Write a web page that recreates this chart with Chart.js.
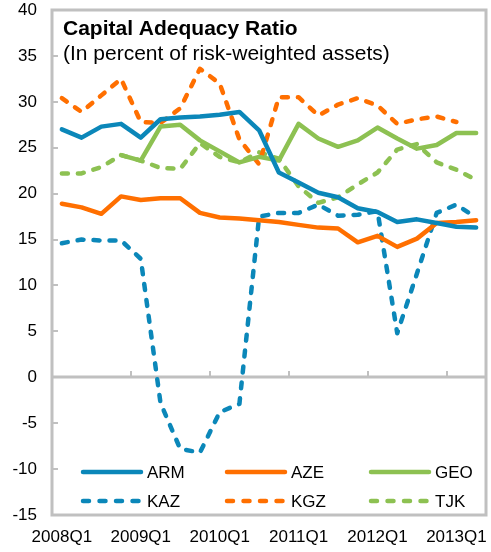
<!DOCTYPE html>
<html>
<head>
<meta charset="utf-8">
<script src="https://cdn.jsdelivr.net/npm/chart.js@4"></script>
<style>
  html, body { margin: 0; padding: 0; background: #fff; }
  #wrap { width: 491px; height: 552px; }
</style>
</head>
<body>
<div id="wrap"><canvas id="car" width="491" height="552"></canvas></div>
<script>
const quarters = [
  "2008Q1", "2008Q2", "2008Q3", "2008Q4",
  "2009Q1", "2009Q2", "2009Q3", "2009Q4",
  "2010Q1", "2010Q2", "2010Q3", "2010Q4",
  "2011Q1", "2011Q2", "2011Q3", "2011Q4",
  "2012Q1", "2012Q2", "2012Q3", "2012Q4",
  "2013Q1", "2013Q2"
];
const shownQuarters = ["2008Q1", "2009Q1", "2010Q1", "2011Q1", "2012Q1", "2013Q1"];
const yMin = -15, yMax = 40, yStep = 5;

const arm = [27.0, 26.1, 27.3, 27.6, 26.1, 28.1, 28.3, 28.4, 28.6, 28.9, 26.9, 22.3,
             21.2, 20.1, 19.6, 18.4, 18.0, 16.9, 17.2, 16.8, 16.4, 16.3];
const aze = [18.9, 18.5, 17.8, 19.7, 19.3, 19.5, 19.5, 17.9, 17.4, 17.3, 17.1, 16.9,
             16.6, 16.3, 16.2, 14.7, 15.4, 14.2, 15.1, 16.8, 16.9, 17.1];
const geo = [null, null, null, 24.2, 23.6, 27.3, 27.5, 25.8, 24.6, 23.4, 24.0, 23.6,
             27.6, 26.0, 25.1, 25.8, 27.2, 26.0, 24.9, 25.3, 26.6, 26.6];
const kaz = [14.6, 15.0, 14.9, 14.9, 12.9, -2.8, -7.8, -8.2, -3.8, -2.9, 17.5, 17.9,
             17.9, 18.8, 17.6, 17.7, 18.1, 4.8, 11.3, 17.9, 18.8, 17.4];
const kgz = [30.4, 28.9, 30.7, 32.5, 27.8, 27.7, 29.3, 33.6, 32.0, 25.9, 23.2, 30.5,
             30.5, 28.5, 29.7, 30.4, 29.6, 27.6, 28.1, 28.4, 27.8, null];
const tjk = [22.2, 22.2, 22.9, 24.2, 23.6, 22.8, 22.7, 25.5, 24.0, 23.4, 24.5, 23.8,
             20.8, 19.0, 19.6, 21.0, 22.3, 24.8, 25.4, 23.4, 22.6, 21.5];

const BLUE = "#0b87b9", ORANGE = "#ff6f00", GREEN = "#8dc152";
const FONT = "'Liberation Sans', Arial, sans-serif";
const DASH = [6, 10];

function series(label, data, color, dashed) {
  return {
    label, data,
    borderColor: color,
    backgroundColor: color,
    borderWidth: 4.5,
    borderDash: dashed ? DASH : [],
    borderCapStyle: "round",
    borderJoinStyle: "round",
    pointRadius: 0,
    tension: 0,
    fill: false,
    dashed
  };
}

// frame, zero line and the small inward ticks
const framePlugin = {
  id: "frame",
  beforeDatasetsDraw(chart) {
    const { ctx, chartArea: a, scales } = chart;
    const y = scales.y;
    ctx.save();
    ctx.strokeStyle = "#c0c0c0";
    ctx.lineWidth = 3;
    ctx.strokeRect(a.left, a.top, a.right - a.left, a.bottom - a.top);

    ctx.lineWidth = 2;
    for (let v = yMin; v <= yMax; v += yStep) {
      const py = Math.round(y.getPixelForValue(v));
      ctx.beginPath();
      ctx.moveTo(a.left, py);
      ctx.lineTo(a.left + 6, py);
      ctx.stroke();
    }

    const zy = Math.round(y.getPixelForValue(0));
    ctx.lineWidth = 3;
    ctx.beginPath();
    ctx.moveTo(a.left, zy);
    ctx.lineTo(a.right, zy);
    ctx.stroke();

    const step = (a.right - a.left) / quarters.length;
    ctx.lineWidth = 2;
    for (let i = 4; i < quarters.length; i += 4) {
      const px = Math.round(a.left + i * step);
      ctx.beginPath();
      ctx.moveTo(px, zy);
      ctx.lineTo(px, zy - 6);
      ctx.stroke();
    }
    ctx.restore();
  }
};

// title, subtitle and the in-plot legend
const textPlugin = {
  id: "texts",
  afterDraw(chart) {
    const { ctx } = chart;
    ctx.save();
    ctx.fillStyle = "#000";
    ctx.textAlign = "left";
    ctx.textBaseline = "alphabetic";
    ctx.font = "bold 21px " + FONT;
    ctx.fillText("Capital Adequacy Ratio", 63, 35);
    ctx.font = "21px " + FONT;
    ctx.fillText("(In percent of risk-weighted assets)", 63, 60);

    const cols = [83, 227, 371];
    const rows = [472, 501];
    ctx.font = "17px " + FONT;
    ctx.textBaseline = "middle";
    chart.data.datasets.forEach((ds, i) => {
      const lx = cols[i % 3], ly = rows[Math.floor(i / 3)];
      ctx.strokeStyle = ds.borderColor;
      ctx.lineWidth = 4.5;
      ctx.lineCap = "round";
      ctx.setLineDash(ds.dashed ? [6, 10.5] : []);
      ctx.beginPath();
      ctx.moveTo(lx, ly);
      ctx.lineTo(lx + 58, ly);
      ctx.stroke();
      ctx.setLineDash([]);
      ctx.fillText(ds.label, lx + 64, ly + 1);
    });
    ctx.restore();
  }
};

new Chart(document.getElementById("car").getContext("2d"), {
  type: "line",
  data: {
    labels: quarters,
    datasets: [
      series("ARM", arm, BLUE, false),
      series("AZE", aze, ORANGE, false),
      series("GEO", geo, GREEN, false),
      series("KAZ", kaz, BLUE, true),
      series("KGZ", kgz, ORANGE, true),
      series("TJK", tjk, GREEN, true)
    ]
  },
  options: {
    responsive: false,
    animation: false,
    devicePixelRatio: 1,
    layout: { padding: { top: 10, right: 5, left: 0, bottom: 0 } },
    plugins: { legend: { display: false }, tooltip: { enabled: false } },
    scales: {
      x: {
        type: "category",
        offset: true,
        grid: { display: false, drawTicks: false },
        border: { display: false },
        afterFit(s) {
          s.height = 37;
          s.paddingLeft = 0;
          s.paddingRight = 0;
        },
        ticks: {
          autoSkip: false,
          maxRotation: 0,
          padding: 12,
          color: "#000",
          font: { family: FONT, size: 17 },
          callback(v) {
            const q = quarters[v];
            return shownQuarters.includes(q) ? q : "";
          }
        }
      },
      y: {
        min: yMin,
        max: yMax,
        grid: { display: false, drawTicks: false },
        border: { display: false },
        afterFit(s) {
          s.width = 52;
          s.paddingTop = 0;
          s.paddingBottom = 0;
        },
        ticks: {
          stepSize: yStep,
          padding: 15,
          color: "#000",
          font: { family: FONT, size: 17 }
        }
      }
    }
  },
  plugins: [framePlugin, textPlugin]
});
</script>
</body>
</html>
